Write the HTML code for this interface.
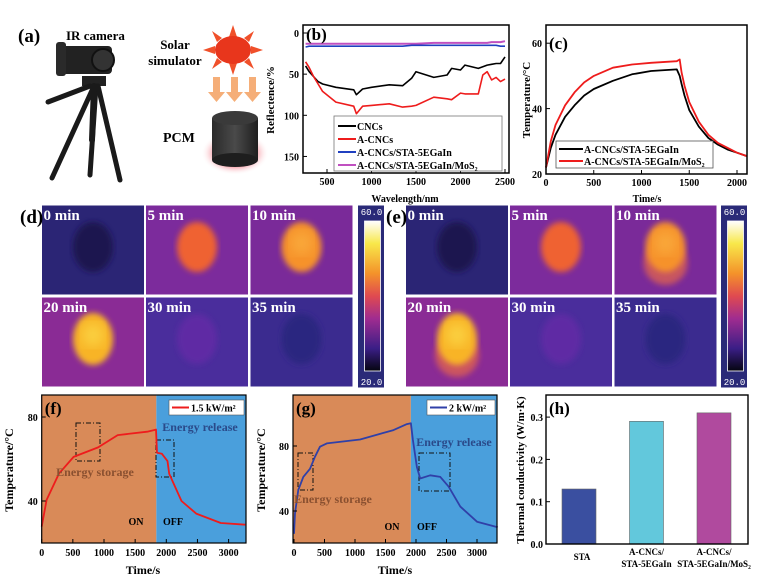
<!DOCTYPE html>
<html><head><meta charset="utf-8"><style>
html,body{margin:0;padding:0;background:#fff;}
svg{display:block;font-family:"Liberation Serif",serif;font-weight:bold;}
</style></head><body>
<svg id="fig" width="766" height="580" viewBox="0 0 766 580" xmlns="http://www.w3.org/2000/svg">
<defs>
<filter id="blur3"><feGaussianBlur stdDeviation="3"/></filter>
<filter id="blur6"><feGaussianBlur stdDeviation="6"/></filter>
<linearGradient id="cbar" x1="0" y1="0" x2="0" y2="1">
<stop offset="0" stop-color="#ffffff"/><stop offset="0.15" stop-color="#f8e84a"/><stop offset="0.35" stop-color="#f4922a"/><stop offset="0.5" stop-color="#e04a50"/><stop offset="0.65" stop-color="#a02c90"/><stop offset="0.85" stop-color="#3a1e86"/><stop offset="1" stop-color="#050510"/>
</linearGradient>
<radialGradient id="glow"><stop offset="0.5" stop-color="#f06070"/><stop offset="1" stop-color="#fff" stop-opacity="0"/></radialGradient>
<linearGradient id="cyl" x1="0" x2="1"><stop offset="0" stop-color="#2a2a2a"/><stop offset="0.5" stop-color="#4a4a4a"/><stop offset="1" stop-color="#1e1e1e"/></linearGradient>
</defs>

<!-- Panel (a) -->
<g>
<text x="18" y="42" font-size="19">(a)</text>
<text x="66" y="40" font-size="13">IR camera</text>
<g stroke="#1a1a1a" stroke-linecap="round">
<rect x="60" y="46" width="52" height="28" rx="4" fill="#222" stroke="none"/>
<circle cx="103" cy="60" r="11" fill="#333" stroke="#111" stroke-width="2"/>
<rect x="56" y="42" width="10" height="34" rx="3" fill="#2a2a2a" stroke="none"/>
<rect x="82" y="76" width="24" height="10" fill="#222" stroke="none"/>
<line x1="90" y1="86" x2="48" y2="102" stroke-width="5"/>
<line x1="94" y1="86" x2="52" y2="178" stroke-width="5"/>
<line x1="96" y1="86" x2="90" y2="175" stroke-width="5"/>
<line x1="98" y1="86" x2="120" y2="180" stroke-width="5"/>
<line x1="94" y1="86" x2="92" y2="140" stroke-width="6"/>
</g>
<text x="175" y="49" font-size="13" text-anchor="middle">Solar</text>
<text x="175" y="65" font-size="13" text-anchor="middle">simulator</text>
<g fill="#f0502a">
<polygon points="233,25 237,37 229,37"/><polygon points="233,75 237,63 229,63"/>
<polygon points="203,50 215,46 215,54"/><polygon points="263,50 251,46 251,54"/>
<polygon points="212,31 222,38 217,42"/><polygon points="254,31 244,38 249,42"/>
<polygon points="212,69 222,62 217,58"/><polygon points="254,69 244,62 249,58"/>
<ellipse cx="233" cy="50" rx="18" ry="14" fill="#e8361c"/>
</g>
<g fill="#f5ae78">
<polygon points="213,77 220,77 220,92 225,92 216.5,102 208,92 213,92"/>
<polygon points="231,77 238,77 238,92 243,92 234.5,102 226,92 231,92"/>
<polygon points="249,77 256,77 256,92 261,92 252.5,102 244,92 249,92"/>
</g>
<text x="163" y="142" font-size="14">PCM</text>
<g>
<ellipse cx="235" cy="153" rx="34" ry="22" fill="url(#glow)"/>
<rect x="212" y="118" width="46" height="42" fill="url(#cyl)"/>
<ellipse cx="235" cy="160" rx="23" ry="7" fill="#1e1e1e"/>
<ellipse cx="235" cy="118" rx="23" ry="7" fill="#3a3a3a"/>
</g>
</g>

<!-- Static axis titles -->
<text transform="translate(274,100) rotate(-90)" font-size="11" text-anchor="middle">Reflectence/%</text>
<text x="405" y="202" font-size="10" text-anchor="middle">Wavelength/nm</text>
<text transform="translate(530,100) rotate(-90)" font-size="11" text-anchor="middle">Temperature/°C</text>
<text x="647" y="202" font-size="10" text-anchor="middle">Time/s</text>
<text transform="translate(13,470) rotate(-90)" font-size="12" text-anchor="middle">Temperature/°C</text>
<text x="143" y="574" font-size="12" text-anchor="middle">Time/s</text>
<text transform="translate(265,470) rotate(-90)" font-size="12" text-anchor="middle">Temperature/°C</text>
<text x="395" y="574" font-size="12" text-anchor="middle">Time/s</text>
<text transform="translate(524,470) rotate(-90)" font-size="11" text-anchor="middle">Thermal conductivity (W/m·K)</text>

<g id="root"></g>
</svg>
<script>
// ---------- data ----------
var bWave = [260,300,350,400,450,600,800,830,900,1000,1200,1350,1450,1500,1700,1850,1900,2000,2050,2200,2250,2300,2350,2400,2450,2500];
var bCNCs = [40,47,53,59,62,66,69,75,68,66,63,64,55,47,54,51,43,45,39,43,41,39,38,37,37,29];
var bACNCs = [35,42,53,62,71,84,89,98,89,88,86,90,89,88,78,80,81,73,74,74,51,47,57,54,59,56];
var bSTA = [17,16,16,16,16,16,16,16,16,16,16,16,15,15,15,15,15,15,15,15,15,15,15,15,16,16];
var bMoS2 = [13,13,13,13,13,13,13,13,13,13,13,13,13,13,12,12,12,12,12,12,12,12,11,11,11,10];
var bXTicks = [500,1000,1500,2000,2500];
var bYTicks = [0,50,100,150];

var cTime = [0,50,100,200,300,400,500,700,900,1100,1370,1400,1420,1450,1500,1600,1700,1800,1900,2000,2100];
var cSTA = [22,28,32,37.5,41,44,46,48.5,50.5,51.5,52,50,47.5,44,39.5,34.5,31,29,27.5,26.5,25.5];
var cMoS2 = [22,30,35,41,45,48,50,52.5,53.5,54,54.5,55,51,47,42,36,32,29.5,28,26.5,25.5];
var cXTicks = [0,500,1000,1500,2000];
var cYTicks = [20,40,60];

var fTime = [0,79,276,512,906,1220,1693,1835,1850,1930,2020,2047,2244,2480,2874,3268];
var fTemp = [27.8,40.5,53,61,65.5,71.4,73,74,63,62.5,59,53,40,34,29.5,28.7];
var gTime = [0,16,71,153,263,345,427,537,1084,1631,1850,1916,1949,2014,2069,2233,2398,2534,2726,3000,3339];
var gTemp = [26,38.6,53,61,66,73.4,79.6,81.6,84,89.8,93.5,94,83.7,67,60,62,61,55,42.7,33.4,30];
var fgXTicks = [0,500,1000,1500,2000,2500,3000];
var fgYTicks = [40,80];
var fSwitch = [1840];
var gSwitch = [1916];

var hCats = ["STA","A-CNCs/STA-5EGaIn","A-CNCs/STA-5EGaIn/MoS2"];
var hVals = [0.13,0.29,0.31];
var hYTicks = [0,0.1,0.2,0.3];

// ---------- helpers ----------
var NS="http://www.w3.org/2000/svg";
var root=document.getElementById('root');
function mk(tag,attrs,parent){var e=document.createElementNS(NS,tag);for(var k in attrs)e.setAttribute(k,attrs[k]);(parent||root).appendChild(e);return e;}
function txt(x,y,s,size,anchor,fill,parent){var t=mk('text',{x:x,y:y,'font-size':size,'text-anchor':anchor||'middle',fill:fill||'#000'},parent);t.textContent=s;return t;}
function path(xs,ys,sx,sy,color,w,parent){var d='';for(var i=0;i<xs.length;i++){d+=(i?'L':'M')+sx(xs[i]).toFixed(1)+','+sy(ys[i]).toFixed(1);}return mk('path',{d:d,fill:'none',stroke:color,'stroke-width':w||1.6,'stroke-linejoin':'round'},parent);}

// ---------- panel b ----------
var bx=function(w){return 327+(w-500)*0.089;};
var by=function(v){return 33+v*0.823;};
var gb=mk('g',{});


var l;
l=path(bWave,bMoS2,bx,by,'#c050c0',2,gb);


l=path(bWave,bSTA,bx,by,'#2040c0',1.6,gb);


l=path(bWave,bCNCs,bx,by,'#000',1.6,gb);


l=path(bWave,bACNCs,bx,by,'#ee1c1c',1.6,gb);


var fr=mk('rect',{x:303,y:25,width:206,height:148,fill:'none',stroke:'#000','stroke-width':1.5},gb);


bXTicks.forEach(function(v){mk('line',{x1:bx(v),x2:bx(v),y1:173,y2:169,stroke:'#000'},gb);var t=txt(bx(v),185,String(v),10,'middle','#000',gb);

});
bYTicks.forEach(function(v){mk('line',{x1:303,x2:307,y1:by(v),y2:by(v),stroke:'#000'},gb);var t=txt(299,by(v)+4,String(v),10,'end','#000',gb);

});
txt(306,40,'(b)',17,'start','#000',gb);
var lg=mk('g',{},gb);


mk('rect',{x:334,y:116,width:168,height:55,fill:'#fff',stroke:'#777','stroke-width':0.8},lg);
var bl=[['CNCs','#000'],['A-CNCs','#ee1c1c'],['A-CNCs/STA-5EGaIn','#2040c0'],['A-CNCs/STA-5EGaIn/MoS₂','#c050c0']];
bl.forEach(function(e,i){var y=126+i*13;mk('line',{x1:338,x2:356,y1:y,y2:y,stroke:e[1],'stroke-width':2},lg);var t=txt(357,y+4,e[0],10,'start','#000',lg);

});

// ---------- panel c ----------
var cx=function(t){return 546+t*0.0955;};
var cy=function(v){return 174-(v-20)*3.27;};
var gc=mk('g',{});


l=path(cTime,cSTA,cx,cy,'#000',1.8,gc);


l=path(cTime,cMoS2,cx,cy,'#ee1c1c',1.8,gc);


fr=mk('rect',{x:546,y:25,width:201,height:149,fill:'none',stroke:'#000','stroke-width':1.5},gc);


cXTicks.forEach(function(v){mk('line',{x1:cx(v),x2:cx(v),y1:174,y2:170,stroke:'#000'},gc);var t=txt(cx(v),186,String(v),10,'middle','#000',gc);

});
cYTicks.forEach(function(v){mk('line',{x1:546,x2:550,y1:cy(v),y2:cy(v),stroke:'#000'},gc);var t=txt(542,cy(v)+4,String(v),10,'end','#000',gc);

});
txt(549,49,'(c)',17,'start','#000',gc);
lg=mk('g',{},gc);


mk('rect',{x:556,y:141,width:157,height:27,fill:'#fff',stroke:'#555','stroke-width':0.8},lg);
[['A-CNCs/STA-5EGaIn','#000'],['A-CNCs/STA-5EGaIn/MoS₂','#ee1c1c']].forEach(function(e,i){var y=149+i*12;mk('line',{x1:559,x2:583,y1:y,y2:y,stroke:e[1],'stroke-width':2},lg);var t=txt(584,y+4,e[0],10,'start','#000',lg);

});

// ---------- thermal images ----------
var tileSpecs=[
 ['0 min','#2b2575','#1a1450',0],['5 min','#7c2b9c','#ef6230',0],['10 min','#7a2a99','#f6922c',0],
 ['20 min','#8a2b95','#f8b428',0],['30 min','#4a2d9c','#5e2ca4',0],['35 min','#3b2b8f','#2c2680',0]];
function thermal(name,xs,cbx,second){
 var g=mk('g',{});
 
 
 var rows=[205,297];
 tileSpecs.forEach(function(s,i){
  var x=xs[i%3],y=rows[Math.floor(i/3)],w=xs[1]-xs[0]-1,h=90;
  var t=mk('g',{},g);
  
  
  mk('rect',{x:x,y:y,width:w,height:h,fill:s[1],stroke:'#fff','stroke-width':1},t);
  var bcx=x+w/2,bcy=y+42;
  if(second&&(i==2||i==3)){mk('ellipse',{cx:bcx,cy:bcy+16,rx:22,ry:22,fill:'#e86848',opacity:0.7,filter:'url(#blur3)'},t);}
  mk('ellipse',{cx:bcx,cy:bcy,rx:20,ry:i==3?26:25,fill:s[2],filter:'url(#blur3)'},t);
  if(i==2||i==3){mk('ellipse',{cx:bcx,cy:bcy-4,rx:11,ry:12,fill:i==3?'#fbd040':'#f9a83a',filter:'url(#blur6)'},t);}
  var tl=txt(x+2,y+15,s[0],15,'start','#fff',t);
  
  
 });
 var cb=mk('g',{},g);
 
 
 mk('rect',{x:cbx,y:205,width:27,height:183,fill:'#2a2a78',stroke:'#fff','stroke-width':1},cb);
 mk('rect',{x:cbx+7,y:221,width:16,height:150,fill:'url(#cbar)',stroke:'#fff','stroke-width':0.8},cb);
 var a=txt(cbx+14,215,'60.0',9,'middle','#fff',cb);a.setAttribute('font-family','Liberation Mono, monospace');a.setAttribute('font-weight','normal');
 var b=txt(cbx+14,385,'20.0',9,'middle','#fff',cb);b.setAttribute('font-family','Liberation Mono, monospace');b.setAttribute('font-weight','normal');
}
thermal('panel-d-thermal-images',[41.5,145.5,250],357.5,false);
thermal('panel-e-thermal-images',[405.5,509.5,614],720.5,true);
var dl=txt(20,223,'(d)',19,'start','#000');


var el=txt(386,223,'(e)',19,'start','#000');



// ---------- panels f & g ----------
function storage(name,label,X,Y,left,right,xs,ys,sw,color,legendText,lgBox,boxes,labels){
 var g=mk('g',{});
 
 
 var r1=mk('rect',{x:left,y:395,width:X(sw[0])-left,height:148,fill:'#d98a58'},g);
 
 
 var r2=mk('rect',{x:X(sw[0]),y:395,width:right-X(sw[0]),height:148,fill:'#4a9fdc'},g);
 
 
 boxes.forEach(function(b){var bx_=mk('rect',{x:b[0],y:b[1],width:b[2],height:b[3],fill:'none',stroke:'#111','stroke-width':1,'stroke-dasharray':'5,2,1,2'},g);
 
 });
 var ln=path(xs,ys,X,Y,color,1.8,g);
 
 
 var f=mk('rect',{x:left,y:395,width:right-left,height:148,fill:'none',stroke:'#000','stroke-width':1.2},g);
 
 
 fgXTicks.forEach(function(v){mk('line',{x1:X(v),x2:X(v),y1:543,y2:539,stroke:'#000'},g);var t=txt(X(v),556,String(v),10,'middle','#000',g);
 
 });
 fgYTicks.forEach(function(v){mk('line',{x1:left,x2:left+4,y1:Y(v),y2:Y(v),stroke:'#000'},g);var t=txt(left-4,Y(v)+4,String(v),10,'end','#000',g);
 
 });
 var pl=txt(left+3,414,label,17,'start','#000',g);
 
 
 labels.forEach(function(s){var t=txt(s[1],s[2],s[0],s[3],'middle',s[4],g);
 
 });
 var lgg=mk('g',{},g);
 
 
 mk('rect',{x:lgBox[0],y:lgBox[1],width:lgBox[2],height:15,fill:'#fff',stroke:'#555','stroke-width':0.6},lgg);
 mk('line',{x1:lgBox[0]+3,x2:lgBox[0]+20,y1:lgBox[1]+7.5,y2:lgBox[1]+7.5,stroke:color,'stroke-width':2},lgg);
 txt(lgBox[0]+22,lgBox[1]+11.5,legendText,10,'start','#000',lgg);
}
var fX=function(t){return 41.7+t*0.0623;};
var fY=function(v){return 417-(v-80)*2.1;};
storage('panel-f-1-5kw-chart','(f)',fX,fY,41.7,246,fTime,fTemp,fSwitch,'#ee1c1c','1.5 kW/m²',[169,400,75],
 [[76,423,24,38],[156,440,18,37]],
 [['Energy storage',95,476,12,'#8a5030'],['Energy release',200,431,12,'#2a4a8a'],['ON',136,525,10,'#000'],['OFF',173,525,10,'#000']]);
var gX=function(t){return 294+t*0.061;};
var gY=function(v){return 446-(v-80)*1.625;};
storage('panel-g-2kw-chart','(g)',gX,gY,293,497,gTime,gTemp,gSwitch,'#3040a8','2 kW/m²',[427,400,68],
 [[298,453,15,37],[419,453,31,38]],
 [['Energy storage',333,503,12,'#8a5030'],['Energy release',454,446,12,'#2a4a8a'],['ON',392,530,10,'#000'],['OFF',427,530,10,'#000']]);

// ---------- panel h ----------
var hY=function(v){return 544-v*423;};
var hX=function(i){return 579+i*67.5;};
var hColors=['#3a4fa0','#62c8dc','#b04a9e'];
var gh=mk('g',{});


hVals.forEach(function(v,i){var r=mk('rect',{x:hX(i)-17,y:hY(v),width:34,height:544-hY(v),fill:hColors[i],stroke:'#666','stroke-width':0.6},gh);

});
fr=mk('rect',{x:546,y:395,width:202,height:149,fill:'none',stroke:'#000','stroke-width':1.4},gh);


hYTicks.forEach(function(v){mk('line',{x1:546,x2:550,y1:hY(v),y2:hY(v),stroke:'#000'},gh);var t=txt(543,hY(v)+4,v.toFixed(1),10,'end','#000',gh);

});
hCats.forEach(function(c,i){var parts=c.split('/');var t;
 if(parts.length==1){t=txt(hX(i)+3,560,c,9,'middle','#000',gh);}
 else{t=txt(hX(i),555,parts[0]+'/',9,'middle','#000',gh);txt(hX(i),567,parts.slice(1).join('/').replace('MoS2','MoS₂'),9,'middle','#000',gh);}
 
 });
var hl=txt(549,414,'(h)',17,'start','#000',gh);


</script>
</body></html>
